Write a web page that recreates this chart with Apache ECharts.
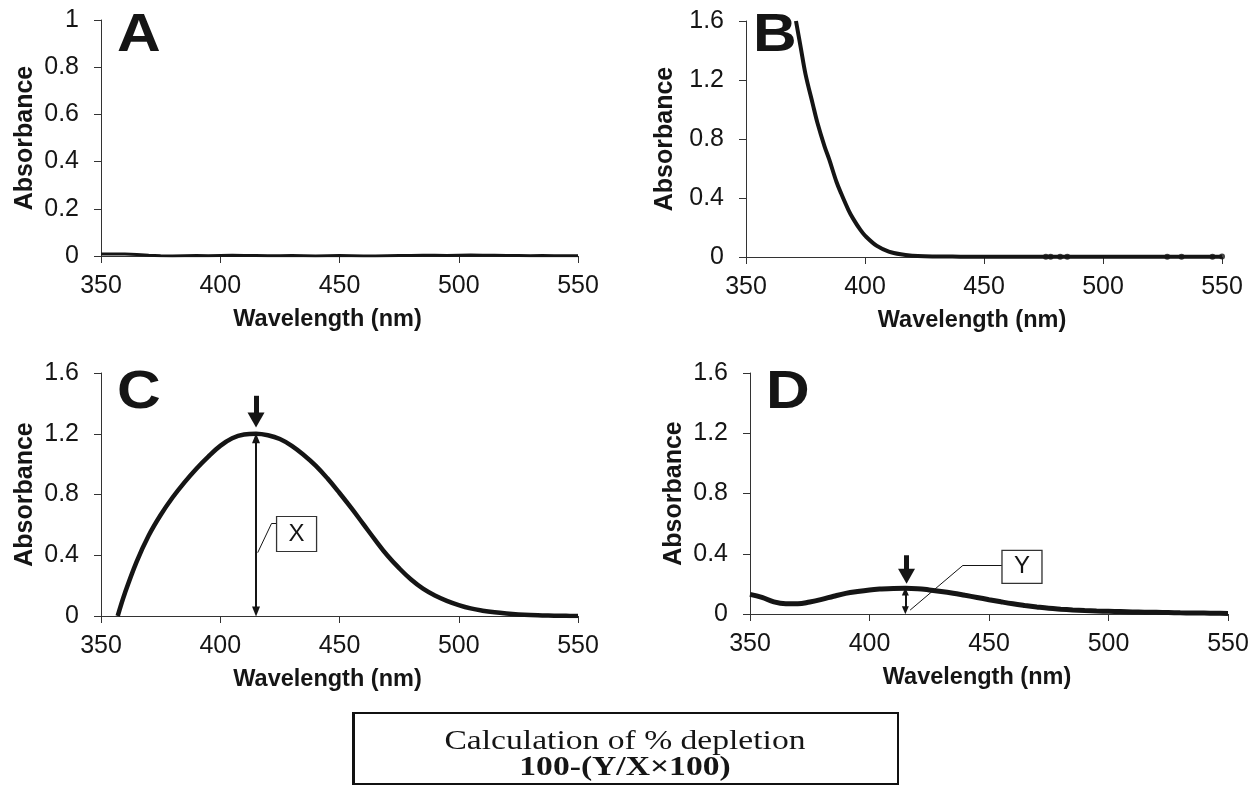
<!DOCTYPE html>
<html>
<head>
<meta charset="utf-8">
<title>Absorbance spectra A-D</title>
<script src="https://cdn.jsdelivr.net/npm/echarts@6/dist/echarts.min.js"></script>
<style>
  html, body { margin: 0; padding: 0; background: #fff; }
  #main { width: 1259px; height: 785px; }
</style>
</head>
<body>
<div id="main"></div>
<script>
// axis ticks
const xTicks = [350, 400, 450, 500, 550];
const yTicksA = [0, 0.2, 0.4, 0.6, 0.8, 1];
const yTicksBCD = [0, 0.4, 0.8, 1.2, 1.6];

// A and D share the full 350-550 grid
const wavelength = [350,355,360,365,370,375,380,385,390,395,400,405,410,415,420,425,430,435,440,445,
  450,455,460,465,470,475,480,485,490,495,500,505,510,515,520,525,530,535,540,545,550];

const absA = [0.008,0.009,0.008,0.006,0.003,0.001,0.000,0.001,0.002,0.001,0.002,0.003,0.002,0.002,0.001,0.001,
  0.002,0.001,0.000,0.001,0.002,0.001,0.000,0.000,0.001,0.002,0.002,0.003,0.003,0.002,0.003,0.004,0.003,0.003,
  0.002,0.002,0.001,0.002,0.001,0.001,0.001];

const wavelengthB = [371,373,375,378,380,383,385,388,390,393,395,398,400,405,410,415,420,425,430,435,440,445,
  450,455,460,465,470,475,480,485,490,495,500,505,510,515,520,525,530,535,540,545,550];
const absB = [1.60,1.42,1.24,1.04,0.91,0.75,0.66,0.51,0.43,0.32,0.26,0.185,0.145,0.075,0.037,0.018,0.009,0.005,
  0.004,0.003,0.002,0.002,0.002,0.001,0.001,0.001,0.001,0.001,0.001,0.001,0.001,0.001,0.001,0.001,0.001,0.001,
  0.001,0.001,0.001,0.001,0.001,0.001,0.001];
// isolated dots along the flat tail of B
const dotWavelengthB = [476, 478, 482, 485, 527, 533, 546, 550];
const dotAbsB = [0.002, 0.002, 0.002, 0.002, 0.002, 0.002, 0.001, 0.003];

const wavelengthC = [357,360,365,370,375,380,385,390,395,400,405,410,415,420,425,430,435,440,445,
  450,455,460,465,470,475,480,485,490,495,500,505,510,515,520,525,530,535,540,545,550];
const absC = [0,0.15,0.36,0.53,0.665,0.78,0.88,0.97,1.05,1.12,1.17,1.195,1.20,1.19,1.165,1.12,1.06,0.99,0.905,
  0.81,0.71,0.605,0.50,0.40,0.315,0.24,0.18,0.135,0.10,0.072,0.05,0.035,0.024,0.016,0.010,0.006,0.004,0.002,0.001,0];

const absD = [0.13,0.11,0.08,0.068,0.068,0.08,0.097,0.118,0.137,0.150,0.160,0.166,0.170,0.171,0.168,0.160,
  0.150,0.138,0.124,0.110,0.095,0.081,0.068,0.057,0.047,0.038,0.032,0.027,0.023,0.020,0.018,0.016,0.014,
  0.012,0.011,0.010,0.008,0.007,0.006,0.005,0.004];

// peak marker wavelength and heights (X in C, Y in D)
const peakWavelength = 415;
const peakX = 1.20;
const peakY = 0.17;

const FONT = '"Liberation Sans", Arial, sans-serif';
const SERIF = '"Liberation Serif", "Times New Roman", serif';
const INK = '#151515';

const zip = (xs, ys) => xs.map((x, i) => [x, ys[i]]);

function xAxisFor(i) {
  return {
    gridIndex: i, type: 'value',
    min: xTicks[0], max: xTicks[xTicks.length - 1], interval: xTicks[1] - xTicks[0],
    name: 'Wavelength (nm)', nameLocation: 'middle', nameGap: 52,
    nameTextStyle: { fontFamily: FONT, fontWeight: 'bold', fontSize: 23.5, color: INK, padding: [0, 24, 0, 0] },
    axisLine: { show: true, onZero: false, lineStyle: { color: '#333', width: 1 } },
    axisTick: { show: true, length: 7, lineStyle: { color: '#333' } },
    axisLabel: { fontFamily: FONT, fontSize: 25, color: INK, margin: 18 },
    splitLine: { show: false }
  };
}

function yAxisFor(i, ticks, gap) {
  return {
    gridIndex: i, type: 'value',
    min: ticks[0], max: ticks[ticks.length - 1], interval: ticks[1] - ticks[0],
    name: 'Absorbance', nameLocation: 'middle', nameGap: gap,
    nameTextStyle: { fontFamily: FONT, fontWeight: 'bold', fontSize: 25, color: INK },
    axisLine: { show: true, lineStyle: { color: '#333', width: 1 } },
    axisTick: { show: true, length: 7, lineStyle: { color: '#333' } },
    axisLabel: { fontFamily: FONT, fontSize: 25, color: INK, margin: 22 },
    splitLine: { show: false }
  };
}

function seg(from, to, width, endSymbols, size) {
  const ls = { color: INK, width: width, type: 'solid' };
  return [
    { coord: from, symbol: endSymbols[0], symbolSize: size, lineStyle: ls },
    { coord: to, symbol: endSymbols[1], symbolSize: size, lineStyle: ls }
  ];
}

const markerBase = {
  silent: true, animation: false, symbol: 'none',
  label: { show: false }, emphasis: { disabled: true }
};

function boxLabel(center, text, size) {
  return {
    silent: true, animation: false,
    data: [{ coord: center, value: text }],
    symbol: 'rect', symbolSize: size,
    itemStyle: { color: '#fff', borderColor: '#333', borderWidth: 1.2 },
    label: { show: true, position: 'inside', formatter: text, fontFamily: FONT, fontSize: 24, color: INK },
    emphasis: { disabled: true }
  };
}

function panelLetter(text, x, y) {
  return {
    type: 'text', x: x, y: y, scaleX: 1.12,
    style: { text: text, font: 'bold 54px ' + FONT, fill: INK, align: 'left', verticalAlign: 'top' }
  };
}

const chart = echarts.init(document.getElementById('main'), null, { renderer: 'canvas' });

const option = {
  backgroundColor: '#fff',
  animation: false,
  grid: [
    { left: 101, top: 20, width: 477, height: 236 },
    { left: 746, top: 21, width: 476, height: 236 },
    { left: 101, top: 373, width: 477, height: 243 },
    { left: 750, top: 373, width: 478, height: 241 }
  ],
  xAxis: [xAxisFor(0), xAxisFor(1), xAxisFor(2), xAxisFor(3)],
  yAxis: [
    yAxisFor(0, yTicksA, 63),
    yAxisFor(1, yTicksBCD, 68),
    yAxisFor(2, yTicksBCD, 63),
    yAxisFor(3, yTicksBCD, 63)
  ],
  series: [
    {
      name: 'A', type: 'line', xAxisIndex: 0, yAxisIndex: 0,
      data: zip(wavelength, absA), showSymbol: false,
      lineStyle: { color: INK, width: 3 }
    },
    {
      name: 'B', type: 'line', xAxisIndex: 1, yAxisIndex: 1,
      data: zip(wavelengthB, absB), showSymbol: false, smooth: 0.35,
      lineStyle: { color: INK, width: 4 }
    },
    {
      name: 'B dots', type: 'scatter', xAxisIndex: 1, yAxisIndex: 1,
      data: zip(dotWavelengthB, dotAbsB), symbolSize: 6,
      itemStyle: { color: INK }
    },
    {
      name: 'C', type: 'line', xAxisIndex: 2, yAxisIndex: 2,
      data: zip(wavelengthC, absC), showSymbol: false, smooth: 0.4,
      lineStyle: { color: INK, width: 4.5 },
      markLine: Object.assign({}, markerBase, {
        data: [
          seg([peakWavelength, 1.45], [peakWavelength, 1.29], 5, ['none', 'triangle'], [17, 15]),
          seg([peakWavelength, 0.03], [peakWavelength, peakX - 0.03], 2, ['triangle', 'triangle'], [8, 10]),
          seg([415.7, 0.417], [421.5, 0.609], 1, ['none', 'none'], 1),
          seg([421.5, 0.609], [423.6, 0.609], 1, ['none', 'none'], 1)
        ]
      }),
      markPoint: boxLabel([432, 0.54], 'X', [40, 35])
    },
    {
      name: 'D', type: 'line', xAxisIndex: 3, yAxisIndex: 3,
      data: zip(wavelength, absD), showSymbol: false, smooth: 0.4,
      lineStyle: { color: INK, width: 5 },
      markLine: Object.assign({}, markerBase, {
        data: [
          seg([peakWavelength + 0.5, 0.39], [peakWavelength + 0.5, 0.25], 5, ['none', 'triangle'], [17, 15]),
          seg([peakWavelength, 0.025], [peakWavelength, peakY - 0.02], 2, ['triangle', 'triangle'], [7, 8]),
          seg([417, 0.026], [439.1, 0.323], 1, ['none', 'none'], 1),
          seg([439.1, 0.323], [455.4, 0.323], 1, ['none', 'none'], 1)
        ]
      }),
      markPoint: boxLabel([463.8, 0.313], 'Y', [40, 33])
    }
  ],
  graphic: [
    panelLetter('A', 117, 9),
    panelLetter('B', 753, 9),
    panelLetter('C', 117, 366),
    panelLetter('D', 766, 366),
    {
      type: 'group', left: 352, top: 712,
      children: [
        { type: 'rect', shape: { x: 0, y: 0, width: 545, height: 71 },
          style: { fill: '#fff', stroke: '#111', lineWidth: 2 } },
        { type: 'rect', shape: { x: -1, y: 0, width: 3, height: 71 }, style: { fill: '#111' } },
        { type: 'text', x: 272, y: 29, scaleX: 1.2, style: { text: 'Calculation of % depletion',
          font: '28px ' + SERIF, fill: INK, align: 'center', verticalAlign: 'middle' } },
        { type: 'text', x: 272, y: 55, scaleX: 1.2, style: { text: '100-(Y/X\u00d7100)',
          font: 'bold 28px ' + SERIF, fill: INK, align: 'center', verticalAlign: 'middle' } }
      ]
    }
  ]
};

chart.setOption(option);
</script>
</body>
</html>
